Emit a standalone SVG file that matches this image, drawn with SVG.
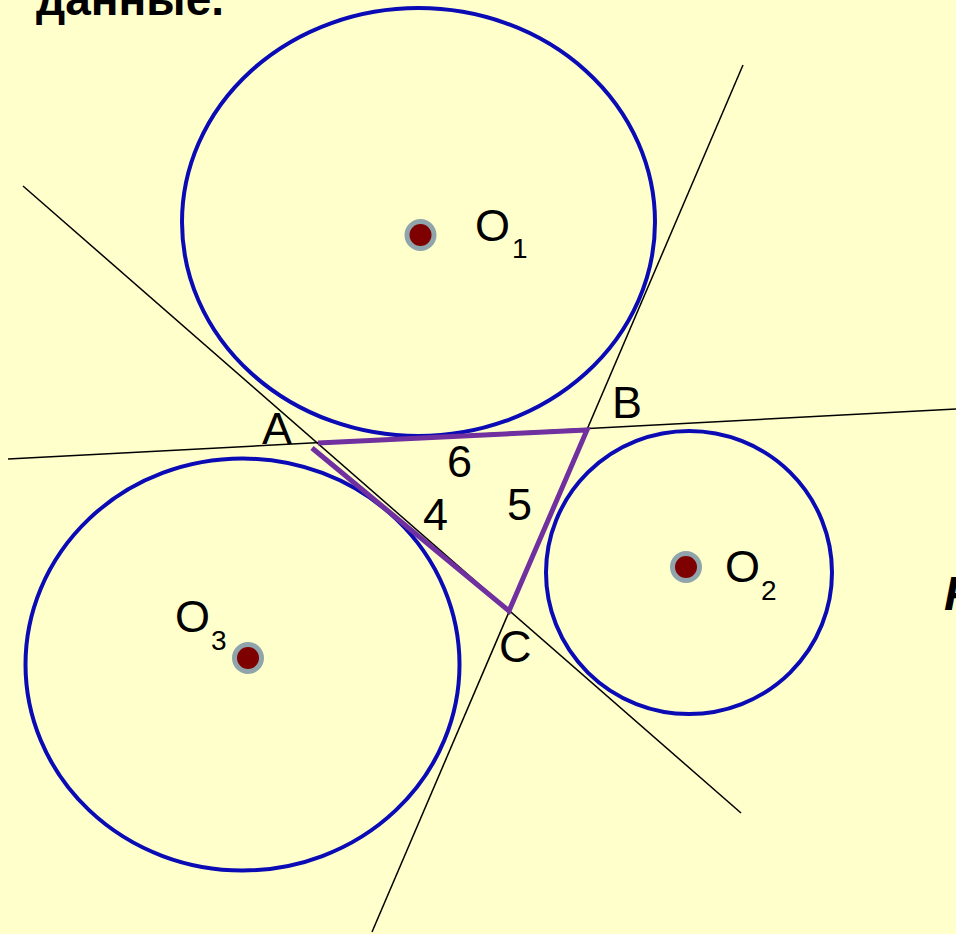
<svg xmlns="http://www.w3.org/2000/svg" width="956" height="934" viewBox="0 0 956 934">
<style>
.circ{fill:none;stroke:#0b0bb5;stroke-width:4}
.ln{stroke:#000;stroke-width:1.5;fill:none}
.tri{fill:none;stroke:#7030a0;stroke-width:5;stroke-linejoin:miter}
.dot{fill:#7f0000;stroke:#8fa5ab;stroke-width:5}
.lbl{font-family:"Liberation Sans",Arial,sans-serif;font-size:45px;fill:#000}
.sub{font-family:"Liberation Sans",Arial,sans-serif;font-size:28px;fill:#000}
.hd{font-family:"Liberation Sans",Arial,sans-serif;font-weight:bold;fill:#000}
</style>
<rect width="956" height="934" fill="#ffffcc"/>
<text class="hd" x="36" y="15" font-size="46">данные.</text>
<text class="hd" x="944" y="610" font-size="48" font-style="italic">Р</text>
<g id="connectors">
<line class="ln" x1="23" y1="186" x2="741" y2="813"/>
<line class="ln" x1="8" y1="459" x2="956" y2="409"/>
<line class="ln" x1="743" y1="65" x2="372" y2="932"/>
</g>
<g id="circle-O1"><ellipse class="circ" cx="418.5" cy="222" rx="236.5" ry="214"/></g>
<g id="circle-O2"><ellipse class="circ" cx="689" cy="572.5" rx="143" ry="141.5"/></g>
<g id="circle-O3"><ellipse class="circ" cx="242.5" cy="664.5" rx="217" ry="206"/></g>
<g id="triangle"><polyline class="tri" points="318,443 587,430 509,611 312,448"/></g>
<g id="O1"><circle class="dot" cx="420.5" cy="235" r="13.5"/><text class="lbl" x="475" y="241">O</text><text class="sub" x="512" y="258">1</text></g>
<g id="O2"><circle class="dot" cx="686" cy="567" r="13.5"/><text class="lbl" x="725" y="582">O</text><text class="sub" x="761" y="600">2</text></g>
<g id="O3"><circle class="dot" cx="248" cy="658" r="13.5"/><text class="lbl" x="175" y="632">O</text><text class="sub" x="211" y="650">3</text></g>
<g id="A"><text class="lbl" x="262" y="444">A</text></g>
<g id="B"><text class="lbl" x="612" y="418">B</text></g>
<g id="C"><text class="lbl" x="499" y="662">C</text></g>
<g id="side-labels">
<text class="lbl" x="447" y="477">6</text>
<text class="lbl" x="423" y="530">4</text>
<text class="lbl" x="507" y="520">5</text>
</g>
</svg>
